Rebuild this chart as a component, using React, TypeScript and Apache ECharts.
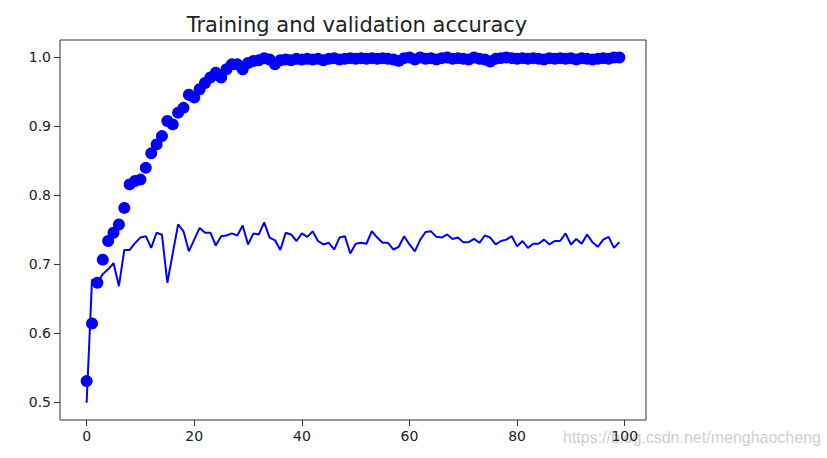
import React, { useEffect, useRef } from "react";
import * as echarts from "echarts";

const epochs: number[] = Array.from({ length: 100 }, (_, i) => i);

const trainAcc: number[] = [
  0.530, 0.6135, 0.6725, 0.706, 0.733, 0.745, 0.757, 0.781, 0.815, 0.820,
  0.822, 0.839, 0.860, 0.873, 0.885, 0.907, 0.902, 0.919, 0.926, 0.945,
  0.941, 0.953, 0.962, 0.970, 0.977, 0.970, 0.982, 0.989, 0.989, 0.982,
  0.991, 0.994, 0.995, 0.998, 0.996, 0.989, 0.995, 0.996, 0.995, 0.997,
  0.996, 0.997, 0.996, 0.997, 0.995, 0.997, 0.998, 0.996, 0.997, 0.998,
  0.997, 0.998, 0.997, 0.998, 0.997, 0.998, 0.997, 0.996, 0.994, 0.998,
  0.999, 0.996, 0.999, 0.997, 0.998, 0.996, 0.998, 0.999, 0.997, 0.998,
  0.997, 0.996, 0.999, 0.997, 0.996, 0.993, 0.997, 0.998, 0.999, 0.998,
  0.997, 0.998, 0.997, 0.998, 0.997, 0.996, 0.998, 0.997, 0.998, 0.997,
  0.998, 0.996, 0.998, 0.997, 0.996, 0.997, 0.998, 0.997, 0.999, 0.999,
];

const valAcc: number[] = [
  0.4986, 0.677, 0.672, 0.685, 0.692, 0.701, 0.6675, 0.720, 0.720, 0.730,
  0.738, 0.740, 0.723, 0.745, 0.742, 0.6725, 0.715, 0.757, 0.747, 0.718,
  0.735, 0.752, 0.745, 0.745, 0.7265, 0.740, 0.741, 0.744, 0.741, 0.7555,
  0.728, 0.744, 0.7425, 0.760, 0.738, 0.734, 0.720, 0.745, 0.7425, 0.733,
  0.744, 0.739, 0.747, 0.733, 0.728, 0.7304, 0.7207, 0.738, 0.740, 0.715,
  0.729, 0.7304, 0.729, 0.7473, 0.738, 0.7304, 0.7304, 0.7207, 0.7246, 0.740,
  0.728, 0.718, 0.735, 0.746, 0.747, 0.739, 0.738, 0.7425, 0.736, 0.738,
  0.7313, 0.7313, 0.736, 0.7304, 0.741, 0.738, 0.728, 0.733, 0.735, 0.740,
  0.7255, 0.733, 0.723, 0.729, 0.729, 0.735, 0.728, 0.733, 0.733, 0.744,
  0.728, 0.736, 0.729, 0.7425, 0.7313, 0.7246, 0.735, 0.739, 0.723, 0.7313,
];

const xTicks: number[] = [0, 20, 40, 60, 80, 100];
const yTicks: number[] = [0.5, 0.6, 0.7, 0.8, 0.9, 1.0];

const titleText = "Training and validation accuracy";
const watermark = "https://blog.csdn.net/menghaocheng";

export default function App() {
  const ref = useRef<HTMLDivElement>(null);
  useEffect(() => {
    if (!ref.current) return;
    const chart = echarts.init(ref.current, undefined, { renderer: "svg" });
    const font = "DejaVu Sans";
    const txt = "#222222";
    chart.setOption({
      animation: false,
      backgroundColor: "#ffffff",
      title: {
        text: titleText,
        left: 352,
        textAlign: "center",
        top: 9,
        textStyle: { fontFamily: font, fontSize: 21, fontWeight: "normal", color: txt },
      },
      grid: {
        left: 60,
        top: 40,
        width: 586,
        height: 380,
        show: true,
        borderColor: "#333333",
        borderWidth: 1,
        backgroundColor: "transparent",
      },
      xAxis: {
        type: "value",
        min: -4.95,
        max: 103.95,
        axisLine: { show: false, onZero: false },
        splitLine: { show: false },
        axisTick: { show: true, customValues: xTicks, length: 6, lineStyle: { color: "#333333" } },
        axisLabel: {
          customValues: xTicks,
          fontFamily: font,
          fontSize: 14,
          color: txt,
          margin: 9,
        },
      },
      yAxis: {
        type: "value",
        min: 0.4736,
        max: 1.0243,
        axisLine: { show: false, onZero: false },
        splitLine: { show: false },
        axisTick: { show: true, customValues: yTicks, length: 6, lineStyle: { color: "#333333" } },
        axisLabel: {
          customValues: yTicks,
          fontFamily: font,
          fontSize: 14,
          color: txt,
          margin: 9,
          formatter: (v: number) => v.toFixed(1),
        },
      },
      graphic: [
        {
          type: "text",
          left: 563,
          top: 429,
          z: -1,
          style: {
            text: watermark,
            font: "16px 'Liberation Sans'",
            fill: "#cfcfcf",
          },
        },
      ],
      series: [
        {
          name: "Training acc",
          type: "scatter",
          symbol: "circle",
          symbolSize: 12,
          itemStyle: { color: "#0000ff", opacity: 1 },
          data: epochs.map((e, i) => [e, trainAcc[i]]),
          clip: true,
        },
        {
          name: "Validation acc",
          type: "line",
          showSymbol: false,
          symbol: "none",
          lineStyle: { color: "#0000ff", width: 2 },
          data: epochs.map((e, i) => [e, valAcc[i]]),
          clip: true,
        },
      ],
    });
    return () => chart.dispose();
  }, []);
  return (
    <div
      ref={ref}
      style={{ position: "absolute", left: 0, top: 0, width: 827, height: 458 }}
    />
  );
}
